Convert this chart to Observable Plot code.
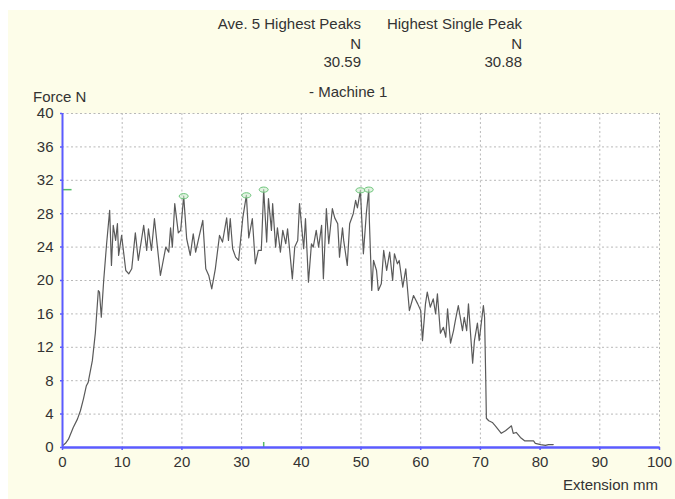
<!DOCTYPE html>
<html>
<head>
<meta charset="utf-8">
<script src="https://cdn.jsdelivr.net/npm/d3@7"></script>
<script src="https://cdn.jsdelivr.net/npm/@observablehq/plot@0.6"></script>
<style>
  html, body { margin: 0; padding: 0; background: #ffffff; }
  #wrap { position: relative; width: 675px; height: 499px; font-family: "Liberation Sans", Arial, sans-serif; color: #333; }
  #panel { position: absolute; left: 8px; top: 10px; width: 667px; height: 489px; background: #fdfde9; }
  .t { position: absolute; font-size: 15px; white-space: nowrap; color: #333; line-height: 18px; }
  .r { text-align: right; }
  #chart { position: absolute; left: 0; top: 0; }
</style>
</head>
<body>
<div id="wrap">
  <div id="panel"></div>
  <div class="t r" style="left:161px;width:200px;top:15px;">Ave. 5 Highest Peaks</div>
  <div class="t r" style="left:161px;width:200px;top:35px;">N</div>
  <div class="t r" style="left:161px;width:200px;top:53px;">30.59</div>
  <div class="t r" style="left:322px;width:200px;top:15px;">Highest Single Peak</div>
  <div class="t r" style="left:322px;width:200px;top:35px;">N</div>
  <div class="t r" style="left:322px;width:200px;top:53px;">30.88</div>
  <div class="t" style="left:309px;top:83px;">- Machine 1</div>
  <div class="t" style="left:33px;top:88px;">Force N</div>
  <div class="t r" style="left:458px;width:200px;top:476px;">Extension mm</div>
  <div id="chart"></div>
</div>
<script>
// Extension (mm)
const extension = [0,0.5,1,1.8,2.5,3.0,3.5,4.0,4.3,5.0,5.5,6.0,6.2,6.5,6.9,7.4,7.9,
  8.2,8.5,8.9,9.2,9.4,9.9,10.6,11.1,11.6,12.2,12.7,13.6,14.1,14.4,14.9,15.4,16.4,17.3,17.8,18.1,18.4,18.8,19.4,19.8,20.3,20.8,
  21.4,21.9,22.3,22.8,23.5,24.0,24.5,25.0,25.6,26.3,26.8,27.5,27.8,28.1,28.5,29.0,29.5,30.2,30.8,31.2,31.8,32.3,32.8,33.3,33.7,
  34.2,34.5,35.0,35.2,35.7,36.0,36.5,36.9,37.4,37.7,38.0,38.5,38.9,39.4,39.7,40.4,40.7,41.2,41.7,42.0,42.5,42.9,43.4,43.7,44.2,
  44.6,45.2,45.6,46.1,46.4,46.9,47.1,47.7,48.1,48.7,49.1,49.4,49.9,50.4,50.9,51.3,51.4,51.8,52.1,52.6,52.9,53.4,53.8,54.3,54.8,
  55.3,55.6,56.1,56.4,57.0,57.5,58.1,58.8,59.5,60.0,60.3,60.8,61.1,61.6,62.1,62.5,62.8,63.3,63.8,64.2,64.5,65.0,65.5,65.8,66.3,
  67.0,67.3,67.7,68.0,68.7,69.0,69.5,69.8,70.5,70.7,70.9,71.0,71.4,72.0,72.5,73.5,74.2,75.2,75.5,76.0,76.7,77.4,78.1,78.9,79.2,
  80.1,80.9,81.4,82.2];
// Force (N)
const force = [0.2,0.5,1.0,2.4,3.4,4.4,5.8,7.4,7.8,10.4,13.7,18.8,18.6,15.6,20.0,24.5,28.4,
  21.8,26.6,24.8,26.8,23.0,25.4,21.2,20.8,21.4,25.7,22.4,26.6,23.6,26.2,23.6,27.4,20.6,24.0,23.4,26.3,24.0,29.2,25.7,26.0,30.1,25.0,
  23.0,25.6,23.4,25.0,27.2,21.4,20.6,19.0,21.4,25.4,24.6,27.5,24.8,27.4,23.8,22.8,22.4,27.5,30.2,25.1,27.4,22.0,23.6,23.6,30.88,
  24.6,29.8,26.0,29.2,24.0,26.3,23.4,26.0,24.4,26.2,24.0,20.2,24.0,24.8,29.2,23.8,27.4,19.8,24.4,24.0,26.0,24.0,26.6,20.2,28.6,
  24.4,28.6,27.5,26.8,22.8,26.3,24.8,21.8,26.8,28.0,29.6,28.7,30.8,23.2,28.1,30.88,27.2,18.8,22.4,21.2,18.8,19.6,23.6,21.2,23.4,
  20.0,23.2,22.0,22.4,19.2,21.4,16.4,18.2,17.2,16.4,12.8,17.2,18.6,16.8,17.8,16.0,18.4,13.7,14.4,13.2,16.6,12.5,14.0,15.2,17.0,
  14.0,15.6,14.0,17.2,10.1,12.8,14.9,12.8,17.0,15.6,8.0,3.5,3.2,3.0,2.6,1.7,2.0,2.6,1.7,1.8,1.2,0.8,0.8,0.8,0.5,
  0.35,0.25,0.35,0.35];
// Marked peaks
const peakX = [20.3, 30.8, 33.7, 49.9, 51.3];
const peakY = [30.1, 30.2, 30.88, 30.8, 30.88];
const highestPeak = 30.88;
const xTicks = [0,10,20,30,40,50,60,70,80,90,100];
const yTicks = [0,4,8,12,16,20,24,28,32,36,40];

const series = extension.map((x, i) => ({x, y: force[i]}));
const peaks = peakX.map((x, i) => ({x, y: peakY[i]}));

// ellipse symbol
const ellipse = {
  draw(ctx, size) {
    const rx = 4.5, ry = 2.6, k = 0.5523;
    ctx.moveTo(rx, 0);
    ctx.bezierCurveTo(rx, ry * k, rx * k, ry, 0, ry);
    ctx.bezierCurveTo(-rx * k, ry, -rx, ry * k, -rx, 0);
    ctx.bezierCurveTo(-rx, -ry * k, -rx * k, -ry, 0, -ry);
    ctx.bezierCurveTo(rx * k, -ry, rx, -ry * k, rx, 0);
    ctx.closePath();
  }
};

const blue = "#5b5bff";
const chart = Plot.plot({
  width: 675,
  height: 499,
  marginLeft: 62,
  marginRight: 16,
  marginTop: 113,
  marginBottom: 52,
  style: {background: "transparent", fontFamily: "Liberation Sans, Arial, sans-serif", fontSize: "15px", color: "#333"},
  x: {domain: [0, 100], axis: null},
  y: {domain: [0, 40], axis: null},
  marks: [
    Plot.frame({fill: "white", stroke: "none"}),
    Plot.gridX(xTicks.slice(1), {stroke: "#b8b8b8", strokeOpacity: 1, strokeDasharray: "2,2.5"}),
    Plot.gridY(yTicks.slice(1), {stroke: "#b8b8b8", strokeOpacity: 1, strokeDasharray: "2,2.5"}),
    Plot.ruleY([highestPeak], {x1: 0, x2: 1.6, stroke: "#55bb66", strokeWidth: 1.5}),
    Plot.ruleX([33.7], {y1: 0, y2: 0.6, stroke: "#55bb66", strokeWidth: 1.5}),
    Plot.line(series, {x: "x", y: "y", stroke: "#5a5a5a", strokeWidth: 1.2}),
    Plot.dot(peaks, {x: "x", y: "y", symbol: ellipse, fill: "#cdeccd", fillOpacity: 0.6, stroke: "#6cc47a", strokeWidth: 1}),
    Plot.ruleX([0], {stroke: blue, strokeWidth: 2}),
    Plot.ruleY([0], {stroke: blue, strokeWidth: 2.5}),
    Plot.axisX(xTicks, {tickSize: 3, stroke: blue, strokeWidth: 1.5, fill: "#333", tickPadding: 6, fontSize: 15, label: null}),
    Plot.axisY(yTicks, {tickSize: 2, stroke: blue, strokeWidth: 1.5, fill: "#333", tickPadding: 7, fontSize: 15, label: null}),
  ]
});
document.getElementById("chart").appendChild(chart);
</script>
</body>
</html>
